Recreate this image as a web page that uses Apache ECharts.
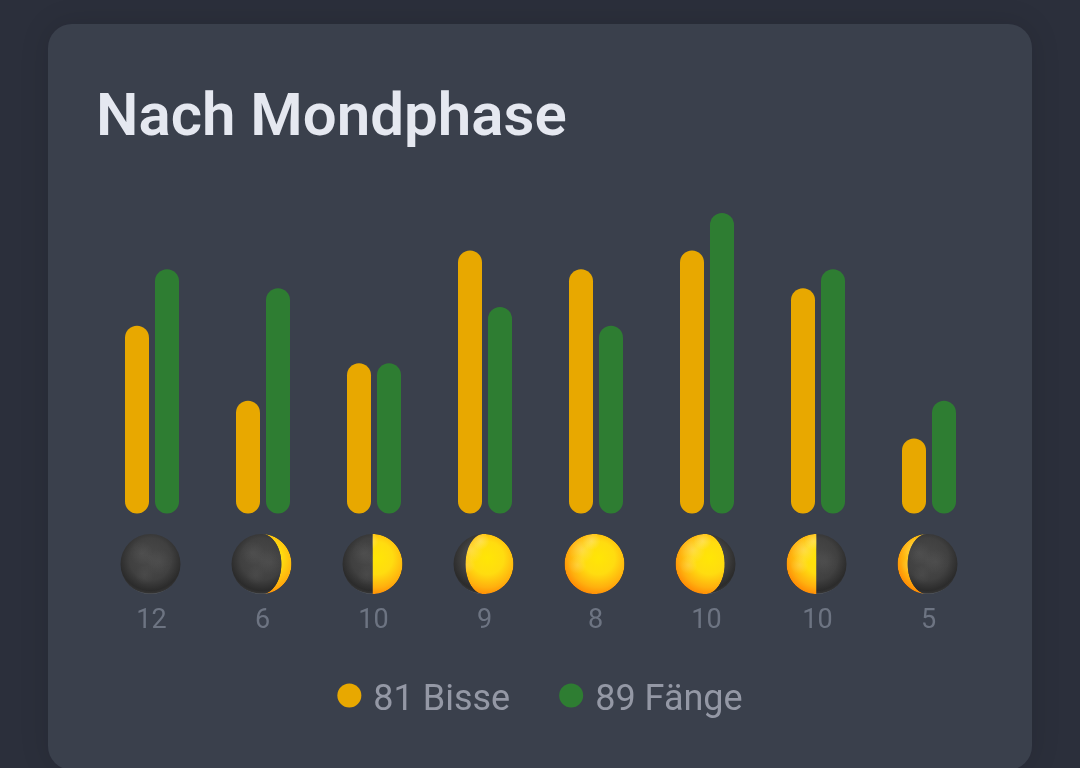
<!DOCTYPE html>
<html lang="de">
<head>
    <meta charset="UTF-8">
    <title>Nach Mondphase</title>
    <script src="https://cdn.jsdelivr.net/npm/echarts@6/dist/echarts.min.js"></script>
    <style>
        html, body { margin: 0; padding: 0; background: #2b2f3b; overflow: hidden; }
    </style>
</head>
<body>
<div id="myChart" style="width: 1080px;height: 768px"></div>
<script>
    var phases = ['Neumond', 'Zunehmende Sichel', 'Erstes Viertel', 'Zunehmender Mond', 'Vollmond', 'Abnehmender Mond', 'Letztes Viertel', 'Abnehmende Sichel'];
    var days = [12, 6, 10, 9, 8, 10, 10, 5];
    var bites = [10, 6, 8, 14, 13, 14, 12, 4];
    var catches = [13, 12, 8, 11, 10, 16, 13, 6];
    // beleuchteter Anteil der Scheibe und die helle Seite
    var litShare = [0, 0.17, 0.5, 0.8, 1, 0.82, 0.5, 0.17];
    var litSide = [1, 1, 1, 1, 1, -1, -1, -1];
    var legendNames = ['81 Bisse', '89 Fänge'];

    var FONT = 'Roboto';
    var R = 30;

    // weicher Fleck fuer die Mondoberflaeche
    function blotch(x, y, r, rgb, alpha) {
        return {
            type: 'circle',
            shape: {cx: x, cy: y, r: r},
            style: {
                fill: {
                    type: 'radial', x: x, y: y, r: r, global: true,
                    colorStops: [
                        {offset: 0, color: 'rgba(' + rgb + ',' + alpha + ')'},
                        {offset: 1, color: 'rgba(' + rgb + ',0)'}
                    ]
                }
            }
        };
    }

    // Moon icons, the emoji font is not available
    function renderMoon(params, api) {
        var i = api.value(0);
        var base = api.coord([i, 0]);
        var cx = base[0] - 1.5;
        var cy = base[1] + 50.5;
        var children = [];
        children.push({
            type: 'circle',
            shape: {cx: cx, cy: cy, r: R},
            style: {
                fill: {
                    type: 'radial', x: cx, y: cy - 5, r: R + 5, global: true,
                    colorStops: [
                        {offset: 0, color: '#4a4a4a'},
                        {offset: 0.6, color: '#404040'},
                        {offset: 0.9, color: '#2b2b2b'},
                        {offset: 0.97, color: '#333'},
                        {offset: 1, color: '#5b5f63'}
                    ]
                }
            }
        });
        children.push(blotch(cx - 9, cy - 11, 12, '255,255,255', 0.05));
        children.push(blotch(cx + 9, cy - 2, 13, '255,255,255', 0.04));
        children.push(blotch(cx - 6, cy + 11, 10, '255,255,255', 0.04));
        var share = litShare[i];
        if (share > 0) {
            var term = (1 - 2 * share) * R * litSide[i];
            var pts = [];
            var n = 48;
            for (var k = 0; k <= n; k++) {
                var a = -Math.PI / 2 + Math.PI * k / n;
                pts.push([cx + litSide[i] * R * Math.cos(a), cy + R * Math.sin(a)]);
            }
            for (var j = n; j >= 0; j--) {
                var b = -Math.PI / 2 + Math.PI * j / n;
                pts.push([cx + term * Math.cos(b), cy + R * Math.sin(b)]);
            }
            var lit = [{
                type: 'polygon',
                shape: {points: pts},
                style: {
                    fill: {
                        type: 'radial', x: cx + 4, y: cy - 6, r: R + 11, global: true,
                        colorStops: [
                            {offset: 0, color: '#ffe606'},
                            {offset: 0.4, color: '#ffdc10'},
                            {offset: 0.72, color: '#ffb00e'},
                            {offset: 1, color: '#ff7800'}
                        ]
                    }
                }
            }];
            // blasse Flecken oben links
            lit.push(blotch(cx - 13, cy - 14, 13, '255,225,150', 0.4));
            lit.push(blotch(cx - 17, cy + 1, 9, '255,225,150', 0.3));
            lit.push(blotch(cx - 3, cy - 23, 9, '255,235,180', 0.4));
            children.push({
                type: 'group',
                clipPath: {type: 'polygon', shape: {points: pts}},
                children: lit
            });
        }
        return {type: 'group', children: children};
    }

    var myChart = echarts.init(document.getElementById('myChart'));
    myChart.setOption({
        animation: false,
        backgroundColor: '#2b2f3b',
        title: {
            text: 'Nach Mondphase',
            left: 91,
            top: 85,
            textStyle: {
                color: '#e5e8f0',
                fontFamily: FONT,
                fontWeight: 600,
                fontSize: 60
            }
        },
        legend: {
            data: legendNames,
            top: 677.5,
            left: 'center',
            icon: 'circle',
            itemWidth: 24,
            itemHeight: 24,
            itemGap: 49,
            formatter: function (name) {
                return '{t|' + name + '}';
            },
            textStyle: {
                rich: {
                    t: {
                        color: '#9498a5',
                        fontFamily: FONT,
                        fontSize: 36,
                        lineHeight: 46,
                        verticalAlign: 'bottom',
                        padding: [0, 0, 0, 7]
                    }
                }
            }
        },
        grid: {
            left: 96.5,
            width: 888,
            top: 213,
            height: 300.5
        },
        xAxis: {
            type: 'category',
            data: phases,
            axisLine: {show: false},
            axisTick: {show: false},
            axisLabel: {
                margin: 94,
                interval: 0,
                color: '#6d7482',
                fontFamily: FONT,
                fontSize: 27,
                padding: [0, 1, 0, 0],
                formatter: function (value, index) {
                    return days[index];
                }
            }
        },
        yAxis: {
            type: 'value',
            min: 0,
            max: 16,
            show: false
        },
        graphic: [{
            type: 'rect',
            z: -1,
            silent: true,
            shape: {x: 48, y: 24, width: 984, height: 746, r: 24},
            style: {
                fill: '#3a404c',
                shadowColor: 'rgba(0,0,0,0.12)',
                shadowBlur: 30
            }
        }],
        series: [{
            name: legendNames[0],
            type: 'bar',
            data: bites,
            barWidth: 24,
            barGap: '25%',
            itemStyle: {color: '#e8a800', borderRadius: 12}
        }, {
            name: legendNames[1],
            type: 'bar',
            data: catches,
            barWidth: 24,
            barGap: '25%',
            itemStyle: {color: '#2e7d32', borderRadius: 12}
        }, {
            type: 'custom',
            silent: true,
            clip: false,
            renderItem: renderMoon,
            encode: {x: 0, y: 1},
            data: phases.map(function (p, i) {
                return [i, 0];
            })
        }]
    });
</script>
</body>
</html>
